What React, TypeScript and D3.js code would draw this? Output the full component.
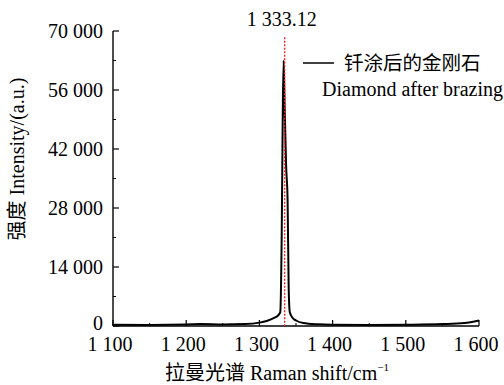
import * as d3 from "d3";
import React from "react";

// spectrum points (Raman shift, intensity)
const shift = [1100, 1150, 1200, 1220, 1250, 1280, 1300, 1310, 1320, 1326, 1328.5, 1330.5, 1332, 1333.12, 1334.5, 1336.5, 1338.5, 1340, 1341.5, 1345, 1350, 1360, 1380, 1400, 1450, 1500, 1550, 1580, 1600];
const intensity = [300, 250, 350, 450, 350, 450, 800, 1200, 1900, 2600, 3300, 22000, 52000, 63000, 52000, 38000, 30000, 9000, 3300, 2000, 1300, 700, 400, 300, 250, 300, 450, 700, 1300];

const xTicks = [1100, 1200, 1300, 1400, 1500, 1600];
const yTicks = [0, 14000, 28000, 42000, 56000, 70000];
const peakShift = 1333.12;
const peakLabel = "1 333.12";
const legendCn = "钎涂后的金刚石";
const legendEn = "Diamond after brazing";

const fmt = (v: number) => d3.format(",")(v).replace(/,/g, " ");

export default function App() {
  const W = 504, H = 385;
  const m = { left: 113, right: 25, top: 31, bottom: 59 };
  const x = d3.scaleLinear().domain([1100, 1600]).range([m.left, W - m.right]);
  const y = d3.scaleLinear().domain([0, 70000]).range([H - m.bottom, m.top]);
  const pts = shift.map((s, i) => [s, intensity[i]] as [number, number]);
  const line = d3.line<[number, number]>().x(d => x(d[0])).y(d => y(d[1])).curve(d3.curveMonotoneX);
  const minorX = d3.range(1150, 1600, 100);
  const minorY = d3.range(7000, 70000, 14000);
  const serif = "'Liberation Serif', 'Times New Roman', serif";
  const cjk = "'Noto Sans CJK SC', sans-serif";
  const y0 = y(0);
  const fs = 20;

  return (
    <div style={{ position: "fixed", left: 0, top: 0 }}>
      <svg width={W} height={H} style={{ display: "block", background: "#fff" }}>
        {/* axes */}
        <line x1={m.left} x2={m.left} y1={y(70000)} y2={y0} stroke="#000" strokeWidth={1.4} />
        <line x1={m.left} x2={x(1600)} y1={y0} y2={y0} stroke="#000" strokeWidth={1.4} />
        {yTicks.map(t => (
          <g key={t}>
            <line x1={m.left} x2={m.left + 6} y1={y(t)} y2={y(t)} stroke="#000" strokeWidth={1.2} />
            <text x={m.left - 10} y={y(t) + (t === 0 ? 4 : 6.5)} textAnchor="end" fontFamily={serif} fontSize={fs}>{fmt(t)}</text>
          </g>
        ))}
        {minorY.map(t => (
          <line key={t} x1={m.left} x2={m.left + 3} y1={y(t)} y2={y(t)} stroke="#000" strokeWidth={1} />
        ))}
        {xTicks.map(t => (
          <g key={t}>
            <line x1={x(t)} x2={x(t)} y1={y0} y2={y0 - 6} stroke="#000" strokeWidth={1.2} />
            <text x={x(t) - 3} y={y0 + 25} textAnchor="middle" fontFamily={serif} fontSize={fs}>{fmt(t)}</text>
          </g>
        ))}
        {minorX.map(t => (
          <line key={t} x1={x(t)} x2={x(t)} y1={y0} y2={y0 - 3} stroke="#000" strokeWidth={1} />
        ))}

        {/* spectrum */}
        <path d={line(pts) ?? undefined} fill="none" stroke="#000" strokeWidth={2} strokeLinejoin="round" />
        <line x1={x(peakShift) + 1} x2={x(peakShift) + 1} y1={y(68500)} y2={y0} stroke="#ff1a1a" strokeWidth={1.3} strokeDasharray="2 1.5" />
        <text x={x(peakShift) - 2} y={26} textAnchor="middle" fontFamily={serif} fontSize={fs}>{peakLabel}</text>

        {/* legend */}
        <line x1={303} x2={334} y1={63} y2={63} stroke="#000" strokeWidth={1.5} />
        <text x={344} y={70} fontFamily={cjk} fontSize={19.5}>{legendCn}</text>
        <text x={322} y={96} fontFamily={serif} fontSize={fs}>{legendEn}</text>

        {/* axis titles */}
        <text transform={`translate(24,${159}) rotate(-90)`} textAnchor="middle" fontSize={fs}>
          <tspan fontFamily={cjk}>强度</tspan>
          <tspan fontFamily={serif}> Intensity/(a.u.)</tspan>
        </text>
        <text x={277} y={380} textAnchor="middle" fontSize={fs}>
          <tspan fontFamily={cjk}>拉曼光谱</tspan>
          <tspan fontFamily={serif}> Raman shift/cm</tspan>
          <tspan fontFamily={serif} fontSize={11} dy={-9}>−1</tspan>
        </text>
      </svg>
    </div>
  );
}
